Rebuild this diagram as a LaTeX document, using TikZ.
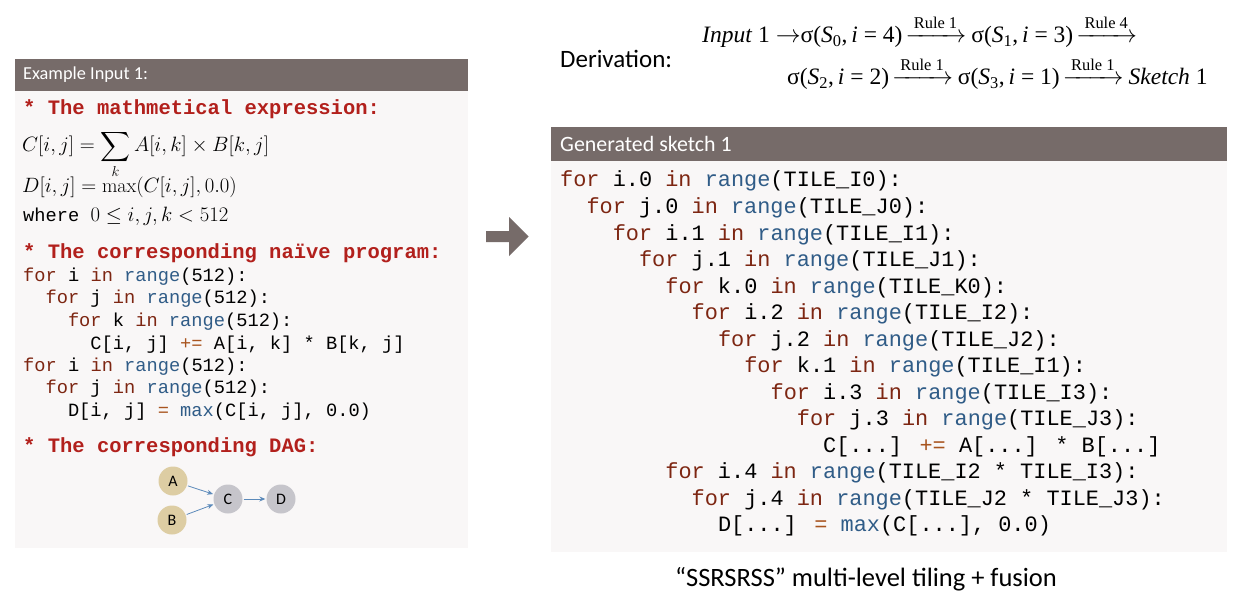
\documentclass[tikz,border=0pt]{standalone}
\usepackage{amsmath}
\usepackage{fontspec}
\newfontfamily\codefont{Liberation Mono}
\newfontfamily\uifont{Carlito}
\newfontfamily\serffont{Liberation Serif}
\usetikzlibrary{arrows.meta}
\definecolor{hdrgray}{RGB}{118,107,105}
\definecolor{panelbg}{RGB}{249,247,247}
\definecolor{kwred}{RGB}{125,38,18}
\definecolor{fnblue}{RGB}{48,92,135}
\definecolor{opbrown}{RGB}{168,84,30}
\definecolor{topicred}{RGB}{178,32,28}
\definecolor{dagbeige}{RGB}{221,205,163}
\definecolor{daggray}{RGB}{198,197,203}
\definecolor{dagblue}{RGB}{92,138,186}
\newcommand{\kw}[1]{\textcolor{kwred}{#1}}
\newcommand{\fn}[1]{\textcolor{fnblue}{#1}}
\newcommand{\op}[1]{\textcolor{opbrown}{#1}}
\newcommand{\rul}[1]{\hspace{3pt}$\xrightarrow{\text{\hspace{3pt}#1\hspace{1pt}}}$\hspace{5pt}}
\newcommand{\sig}[2]{σ(\textit{S}\textsubscript{#1},\,\textit{i} = #2)}
\tikzset{hdrtext/.style={anchor=base west, inner sep=0pt, text=white, font=\uifont\fontsize{18.3}{22}\selectfont},
         topic/.style={anchor=base west, inner sep=0pt, text=topicred, font=\codefont\bfseries\fontsize{20.5}{24}\selectfont},
         codeL/.style={anchor=base west, inner sep=0pt, font=\codefont\fontsize{18.7}{22}\selectfont},
         codeR/.style={anchor=base west, inner sep=0pt, font=\codefont\fontsize{21.9}{26}\selectfont},
         mathline/.style={anchor=base west, inner sep=0pt, font=\fontsize{20}{24}\selectfont},
         deriv/.style={anchor=base west, inner sep=0pt, font=\serffont\fontsize{23.5}{28}\selectfont},
         dagin/.style={circle, fill=dagbeige, minimum size=29pt, inner sep=0pt, font=\uifont\fontsize{16}{18}\selectfont},
         dagop/.style={circle, fill=daggray, minimum size=29pt, inner sep=0pt, font=\uifont\fontsize{16}{18}\selectfont},
         dagedge/.style={-{Stealth[length=6pt,width=5pt]}, draw=dagblue, line width=0.8pt, shorten >=1pt, shorten <=1pt}}

\begin{document}
\begin{tikzpicture}[x=1pt,y=-1pt]
            \useasboundingbox (0,0) rectangle (1244,596);
            \fill[white] (0,0) rectangle (1244,596);

            \fill[panelbg] (15,91) rectangle (468,548);
            \fill[hdrgray] (15,59) rectangle (468,91);
            \node[hdrtext] (hdrL) at (23,80) {Example Input 1:};

                    \node[topic] (t1) at (23,115) {* The mathmetical expression:};
                    \node[mathline] (m1) at (22,152) {$C[i,j] = \displaystyle\sum_k A[i,k] \times B[k,j]$};
                    \node[mathline] (m2) at (22,193) {$D[i,j] = \max(C[i,j], 0.0)$};
                    \node[codeL] (m3) at (23,222) {where \fontsize{20}{24}\selectfont$0 \leq i,j,k < 512$};

                    \node[topic] (t2) at (23,258) {* The corresponding naïve program:};
                    \node[codeL] (p1) at (23,281) {\kw{for} i \kw{in} \fn{range}(512):};
                    \node[codeL] (p2) at (45.4,303) {\kw{for} j \kw{in} \fn{range}(512):};
                    \node[codeL] (p3) at (67.8,326) {\kw{for} k \kw{in} \fn{range}(512):};
                    \node[codeL] (p4) at (90.2,349) {C[i, j] \op{+=} A[i, k] * B[k, j]};
                    \node[codeL] (p5) at (23,371) {\kw{for} i \kw{in} \fn{range}(512):};
                    \node[codeL] (p6) at (45.4,393) {\kw{for} j \kw{in} \fn{range}(512):};
                    \node[codeL] (p7) at (67.8,416) {D[i, j] \op{=} \fn{max}(C[i, j], 0.0)};

                    \node[topic] (t3) at (23,452) {* The corresponding DAG:};
                    \node[dagin] (A) at (173,481) {A};
                    \node[dagin] (B) at (172,520) {B};
                    \node[dagop] (C) at (228,499) {C};
                    \node[dagop] (D) at (281,499) {D};

                    \draw[dagedge] (A) -- (C);
                    \draw[dagedge] (B) -- (C);
                    \draw[dagedge] (C) -- (D);

            \fill[hdrgray] (486,231) -- (509,231) -- (509,217) -- (528.5,236.5) -- (509,256) -- (509,242) -- (486,242) -- cycle;

            \node[anchor=base west, inner sep=0pt, font=\uifont\fontsize{25}{30}\selectfont] (der) at (560,68) {Derivation:};
                    \node[deriv] (d1) at (702,43) {\textit{Input} 1 $\rightarrow$\sig{0}{4}\rul{Rule 1}\sig{1}{3}\rul{Rule 4}};
                    \node[deriv] (d2) at (787,85) {\sig{2}{2}\rul{Rule 1}\sig{3}{1}\rul{Rule 1}\textit{Sketch} 1};

            \fill[panelbg] (551,161) rectangle (1227,552);
            \fill[hdrgray] (551,127) rectangle (1227,161);
            \node[hdrtext, font=\uifont\fontsize{21.9}{26}\selectfont] (hdrR) at (560,152) {Generated sketch 1};

                    \node[codeR] (s1) at (560,187) {\kw{for} i.0 \kw{in} \fn{range}(TILE\_I0):};
                    \node[codeR] (s2) at (586.3,213.5) {\kw{for} j.0 \kw{in} \fn{range}(TILE\_J0):};
                    \node[codeR] (s3) at (612.6,240) {\kw{for} i.1 \kw{in} \fn{range}(TILE\_I1):};
                    \node[codeR] (s4) at (638.9,266.5) {\kw{for} j.1 \kw{in} \fn{range}(TILE\_J1):};
                    \node[codeR] (s5) at (665.2,293) {\kw{for} k.0 \kw{in} \fn{range}(TILE\_K0):};
                    \node[codeR] (s6) at (691.5,319.5) {\kw{for} i.2 \kw{in} \fn{range}(TILE\_I2):};
                    \node[codeR] (s7) at (717.8,346) {\kw{for} j.2 \kw{in} \fn{range}(TILE\_J2):};
                    \node[codeR] (s8) at (744.1,372.5) {\kw{for} k.1 \kw{in} \fn{range}(TILE\_I1):};
                    \node[codeR] (s9) at (770.4,399) {\kw{for} i.3 \kw{in} \fn{range}(TILE\_I3):};
                    \node[codeR] (s10) at (796.7,425.5) {\kw{for} j.3 \kw{in} \fn{range}(TILE\_J3):};
                    \node[codeR] (s11) at (823,452) {C[...] \op{+=} A[...] * B[...]};
                    \node[codeR] (s12) at (665.2,478.5) {\kw{for} i.4 \kw{in} \fn{range}(TILE\_I2 * TILE\_I3):};
                    \node[codeR] (s13) at (691.5,505) {\kw{for} j.4 \kw{in} \fn{range}(TILE\_J2 * TILE\_J3):};
                    \node[codeR] (s14) at (717.8,531.5) {D[...] \op{=} \fn{max}(C[...], 0.0)};

            \node[font=\uifont\fontsize{26.5}{30}\selectfont, inner sep=0pt] (cap) at (866,579) {“SSRSRSS” multi-level tiling + fusion};
\end{tikzpicture}
\end{document}
